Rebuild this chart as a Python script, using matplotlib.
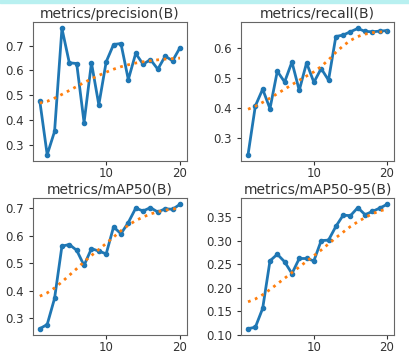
import numpy as np
import matplotlib
matplotlib.use('Agg')
import matplotlib.pyplot as plt
from matplotlib.ticker import MultipleLocator, FormatStrFormatter
from matplotlib.patches import Rectangle

epochs = list(range(1, 21))

precision = [0.476, 0.259, 0.353, 0.770, 0.631, 0.628, 0.389, 0.631, 0.461, 0.635,
             0.705, 0.709, 0.563, 0.669, 0.625, 0.644, 0.605, 0.658, 0.639, 0.692]
precision_smooth = [0.468, 0.475, 0.488, 0.503, 0.519, 0.535, 0.551, 0.566, 0.580, 0.593,
                    0.605, 0.615, 0.623, 0.630, 0.635, 0.639, 0.643, 0.646, 0.648, 0.650]

recall = [0.243, 0.406, 0.462, 0.397, 0.522, 0.486, 0.553, 0.458, 0.550, 0.485,
          0.531, 0.492, 0.638, 0.643, 0.654, 0.665, 0.655, 0.654, 0.656, 0.658]
recall_smooth = [0.395, 0.405, 0.418, 0.432, 0.447, 0.462, 0.477, 0.492, 0.506, 0.520,
                 0.538, 0.560, 0.585, 0.607, 0.625, 0.638, 0.646, 0.651, 0.653, 0.655]

map50 = [0.262, 0.277, 0.372, 0.562, 0.568, 0.547, 0.492, 0.553, 0.544, 0.534,
         0.632, 0.607, 0.648, 0.700, 0.690, 0.702, 0.686, 0.698, 0.696, 0.714]
map50_smooth = [0.380, 0.392, 0.410, 0.432, 0.456, 0.480, 0.505, 0.528, 0.550, 0.572,
                0.595, 0.618, 0.638, 0.655, 0.668, 0.679, 0.687, 0.693, 0.697, 0.700]

map50_95 = [0.113, 0.116, 0.156, 0.257, 0.271, 0.255, 0.230, 0.262, 0.262, 0.257,
            0.300, 0.301, 0.330, 0.354, 0.353, 0.370, 0.355, 0.362, 0.369, 0.377]
map50_95_smooth = [0.170, 0.176, 0.185, 0.196, 0.208, 0.220, 0.232, 0.244, 0.256, 0.268,
                   0.280, 0.293, 0.306, 0.318, 0.330, 0.340, 0.349, 0.357, 0.363, 0.367]

titles = ['metrics/precision(B)', 'metrics/recall(B)', 'metrics/mAP50(B)', 'metrics/mAP50-95(B)']
series = [precision, recall, map50, map50_95]
smooths = [precision_smooth, recall_smooth, map50_smooth, map50_95_smooth]
ysteps = [0.1, 0.1, 0.1, 0.05]
yfmts = ['%.1f', '%.1f', '%.1f', '%.2f']

fig = plt.figure(figsize=(4.1, 3.57), dpi=100)
fig.patches.append(Rectangle((0, 0.991), 1, 0.009, transform=fig.transFigure,
                             color='#b8f0f0', zorder=0))

positions = [[0.080, 0.549, 0.376, 0.389],
             [0.588, 0.549, 0.373, 0.389],
             [0.080, 0.062, 0.376, 0.383],
             [0.588, 0.062, 0.373, 0.383]]

for i in range(4):
    ax = fig.add_axes(positions[i])
    ax.plot(epochs, series[i], marker='.', linewidth=2, markersize=6, color='#1f77b4')
    ax.plot(epochs, smooths[i], ':', linewidth=2, color='#ff7f0e')
    ax.set_title(titles[i], fontsize=10, color='#333333', pad=3)
    ax.xaxis.set_major_locator(MultipleLocator(10))
    ax.yaxis.set_major_locator(MultipleLocator(ysteps[i]))
    ax.yaxis.set_major_formatter(FormatStrFormatter(yfmts[i]))
    ax.tick_params(labelsize=8.5, colors='#333333', length=3, width=0.8)
    ax.tick_params(axis='x', pad=1.5)
    for s in ax.spines.values():
        s.set_color('#666666')
        s.set_linewidth(0.8)

fig.savefig('out.png', dpi=100)
